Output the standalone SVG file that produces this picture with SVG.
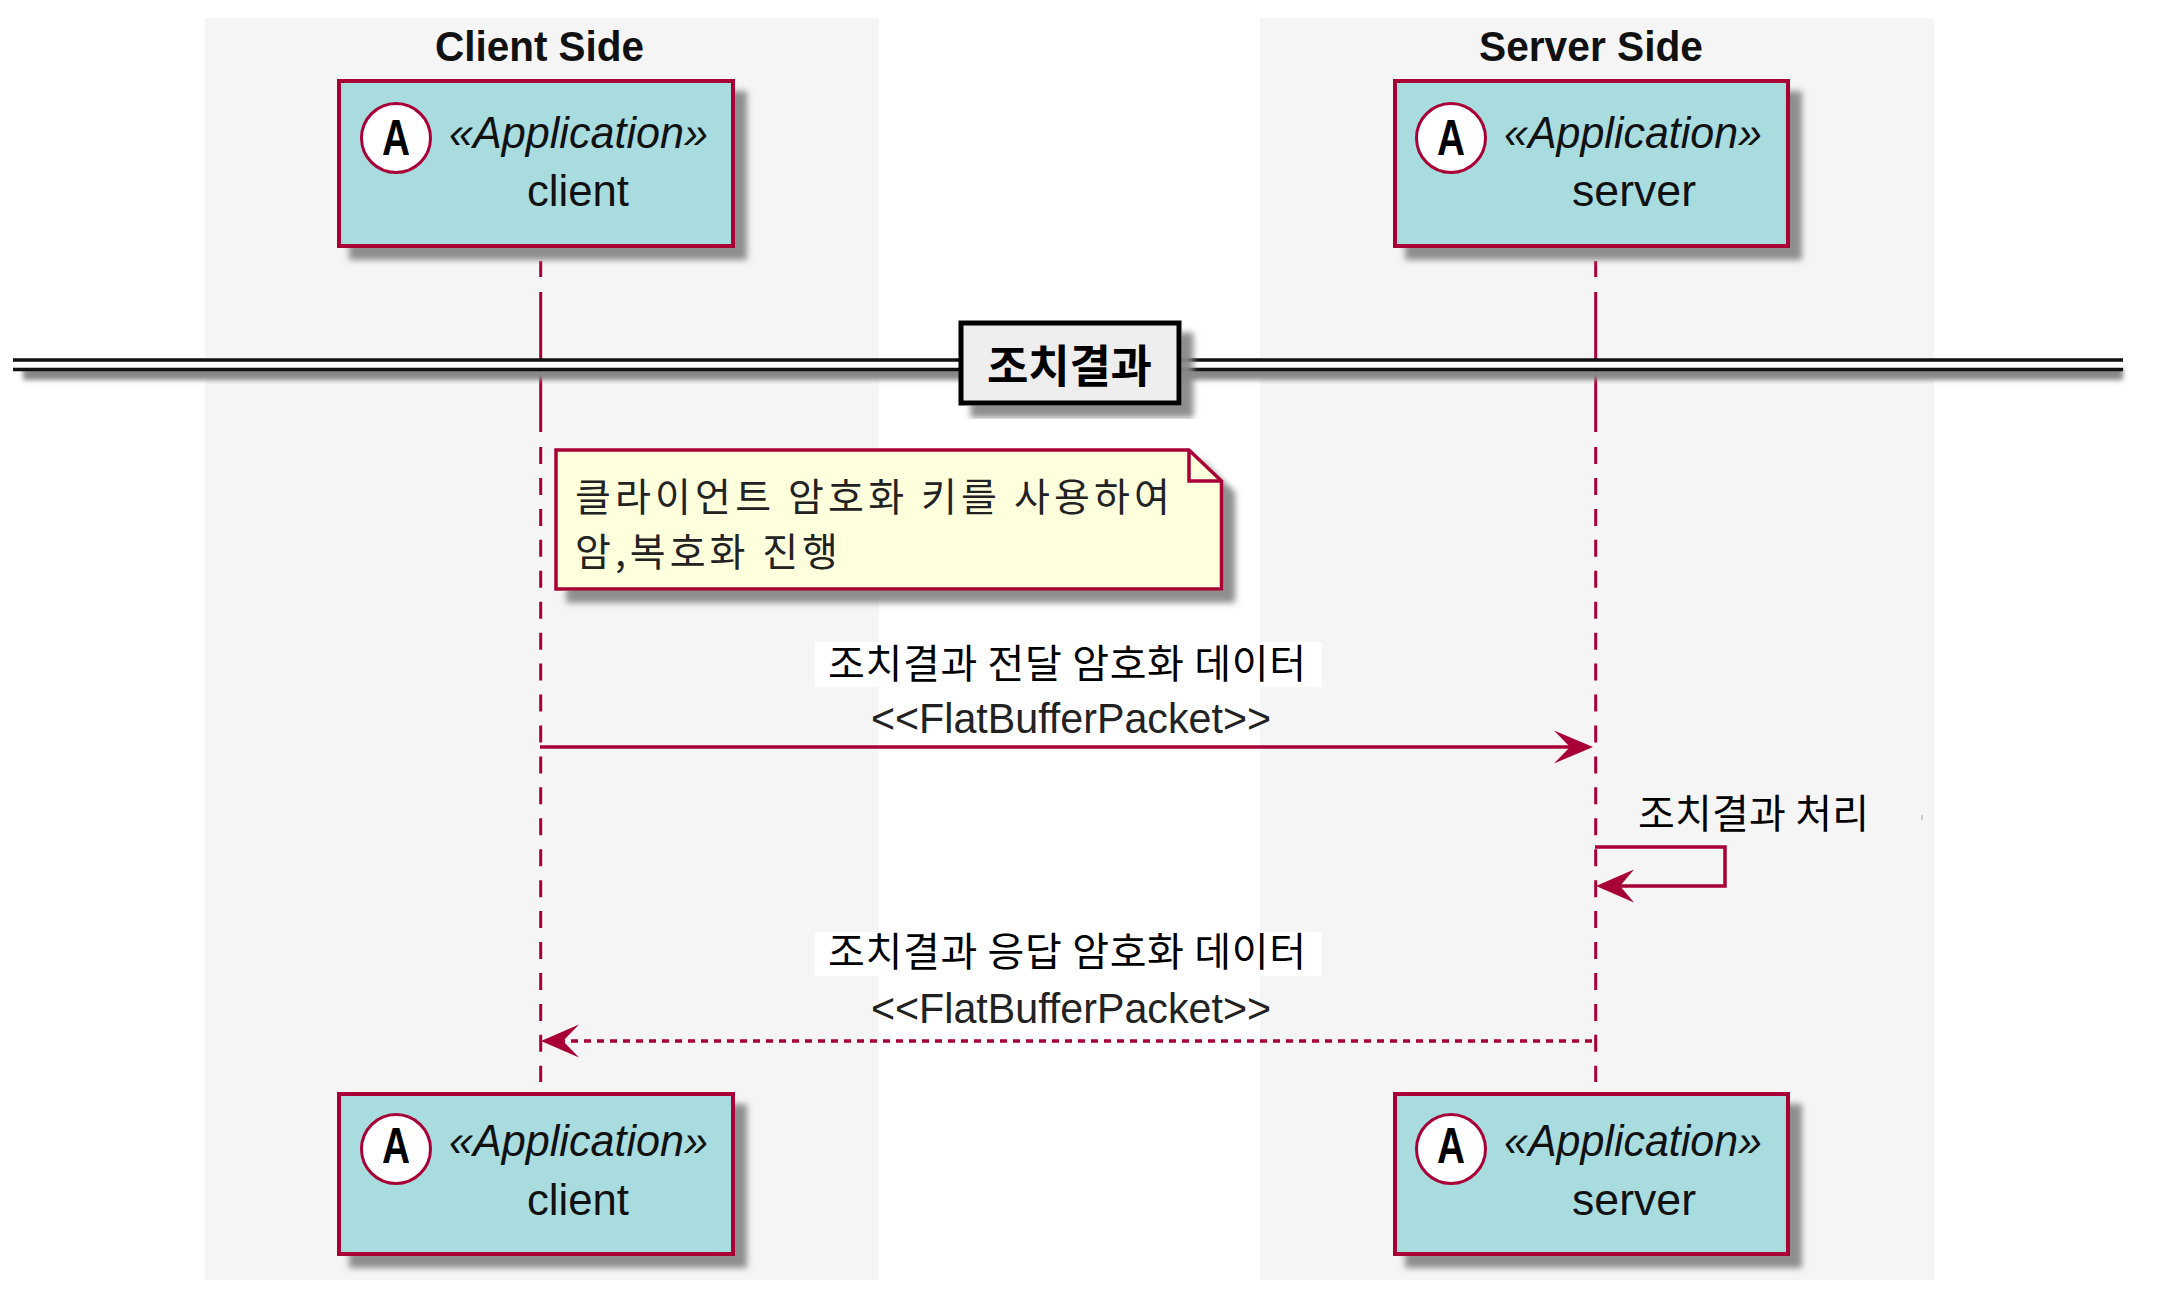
<svg xmlns="http://www.w3.org/2000/svg" width="2158" height="1315" viewBox="0 0 2158 1315">
<style>
text{font-family:"Liberation Sans",Arial,sans-serif;fill:#111}
.ko{font-family:"Noto Sans CJK KR","Noto Sans",sans-serif;font-size:40px;fill:#000}
.note{fill:#222;font-size:39px}
.title{font-size:42px;font-weight:bold}
.st{font-size:44px;font-style:italic}
.nm{font-size:44px}
.pk{font-size:43px;fill:#222}
.actor{fill:#A9DCDF;stroke:#A80036;stroke-width:4;filter:url(#sh)}
.spot{fill:#fff;stroke:#A80036;stroke-width:3}
.cls{font-size:50px;font-weight:bold;fill:#000}
.life{fill:none;stroke:#A80036;stroke-width:3}
.msg{fill:none;stroke:#A80036;stroke-width:3.5}
.head{fill:#A80036;stroke:none}
.band{fill:#F5F5F5}
.wh{fill:#fff}
</style>
<defs>
<filter id="sh" x="-10%" y="-10%" width="125%" height="130%"><feDropShadow dx="12" dy="12" stdDeviation="3" flood-color="#888" flood-opacity="0.95"/></filter>
<filter id="bl" x="-1%" y="-60%" width="102%" height="220%"><feGaussianBlur stdDeviation="2.5"/></filter>
</defs>
<rect width="2158" height="1315" fill="#fff"/>
<g id="box-client"><rect class="band" x="205" y="18" width="674" height="1262"/><text class="title" x="435" y="61" textLength="209" lengthAdjust="spacingAndGlyphs">Client Side</text></g>
<g id="box-server"><rect class="band" x="1260" y="18" width="674" height="1262"/><text class="title" x="1479" y="61" textLength="224" lengthAdjust="spacingAndGlyphs">Server Side</text></g>
<g id="connectors">
<g id="lifelines">
<path class="life" d="M540.7 261V277M540.7 292V432"/>
<path class="life" stroke-dasharray="17 13.94" d="M540.7 447V1082"/>
<path class="life" d="M1595.7 261V277M1595.7 292V432"/>
<path class="life" stroke-dasharray="17 13.94" d="M1595.7 447V1082"/>
</g>
<g id="msg-1"><rect class="wh" x="815" y="642" width="507" height="45"/>
<path class="msg" d="M540 747H1575"/><path class="head" d="M1593 747L1554 730.5L1570 747L1554 763.5Z"/>
<text class="ko" x="828" y="678" textLength="478">조치결과 전달 암호화 데이터</text>
<text class="pk" x="871" y="733" textLength="400" lengthAdjust="spacingAndGlyphs">&lt;&lt;FlatBufferPacket&gt;&gt;</text></g>
<g id="msg-2">
<path class="msg" d="M1595 847H1725V886H1612"/><path class="head" d="M1596 886L1634 869.5L1620 886L1634 902.5Z"/>
<text class="ko" x="1638" y="828" textLength="231">조치결과 처리</text>
<rect x="1921" y="815" width="2" height="5" fill="#ccc"/></g>
<g id="msg-3"><rect class="wh" x="815" y="932" width="507" height="44"/>
<path class="msg" stroke-dasharray="7 6" d="M1592 1041H560"/><path class="head" d="M541 1041L579 1024.5L563 1041L579 1057.5Z"/>
<text class="ko" x="828" y="966" textLength="478">조치결과 응답 암호화 데이터</text>
<text class="pk" x="871" y="1023" textLength="400" lengthAdjust="spacingAndGlyphs">&lt;&lt;FlatBufferPacket&gt;&gt;</text></g>
</g>
<g id="divider">
<rect x="23" y="367" width="2100" height="13" fill="#888" filter="url(#bl)"/>
<rect class="wh" x="13" y="360" width="2110" height="10"/>
<path d="M13 360H2123M13 369.5H2123" stroke="#111" stroke-width="3.5" fill="none"/>
<rect x="961" y="323" width="218" height="80" fill="#EEEEEE" stroke="#000" stroke-width="5" filter="url(#sh)"/>
<text class="ko" x="987" y="383" style="font-size:45px;font-weight:bold" textLength="165">조치결과</text>
</g>
<g id="note">
<path d="M556 450H1189L1221.5 481V589H556Z" fill="#FEFFDD" stroke="#A80036" stroke-width="3.5" filter="url(#sh)"/>
<path d="M1189 450V481H1221.5" fill="none" stroke="#A80036" stroke-width="3.5"/>
<text class="ko note" x="575" y="511" textLength="595">클라이언트 암호화 키를 사용하여</text>
<text class="ko note" x="575" y="566" textLength="263">암,복호화 진행</text>
</g>
<g id="actor-client-top">
<rect class="actor" x="339" y="81" width="394" height="165"/><circle class="spot" cx="396" cy="138" r="34.5"/>
<text class="cls" x="382" y="155" textLength="28" lengthAdjust="spacingAndGlyphs">A</text>
<text class="st" x="449" y="148" textLength="259" lengthAdjust="spacingAndGlyphs">«Application»</text><text class="nm" x="527" y="206" textLength="102" lengthAdjust="spacingAndGlyphs">client</text></g>
<g id="actor-server-top">
<rect class="actor" x="1395" y="81" width="393" height="165"/><circle class="spot" cx="1451" cy="138" r="34.5"/>
<text class="cls" x="1437" y="155" textLength="28" lengthAdjust="spacingAndGlyphs">A</text>
<text class="st" x="1504" y="148" textLength="258" lengthAdjust="spacingAndGlyphs">«Application»</text><text class="nm" x="1572" y="206" textLength="124" lengthAdjust="spacingAndGlyphs">server</text></g>
<g id="actor-client-bottom">
<rect class="actor" x="339" y="1094" width="394" height="160"/><circle class="spot" cx="396" cy="1149" r="34.5"/>
<text class="cls" x="382" y="1163" textLength="28" lengthAdjust="spacingAndGlyphs">A</text>
<text class="st" x="449" y="1156" textLength="259" lengthAdjust="spacingAndGlyphs">«Application»</text><text class="nm" x="527" y="1215" textLength="102" lengthAdjust="spacingAndGlyphs">client</text></g>
<g id="actor-server-bottom">
<rect class="actor" x="1395" y="1094" width="393" height="160"/><circle class="spot" cx="1451" cy="1149" r="34.5"/>
<text class="cls" x="1437" y="1163" textLength="28" lengthAdjust="spacingAndGlyphs">A</text>
<text class="st" x="1504" y="1156" textLength="258" lengthAdjust="spacingAndGlyphs">«Application»</text><text class="nm" x="1572" y="1215" textLength="124" lengthAdjust="spacingAndGlyphs">server</text></g>
</svg>
